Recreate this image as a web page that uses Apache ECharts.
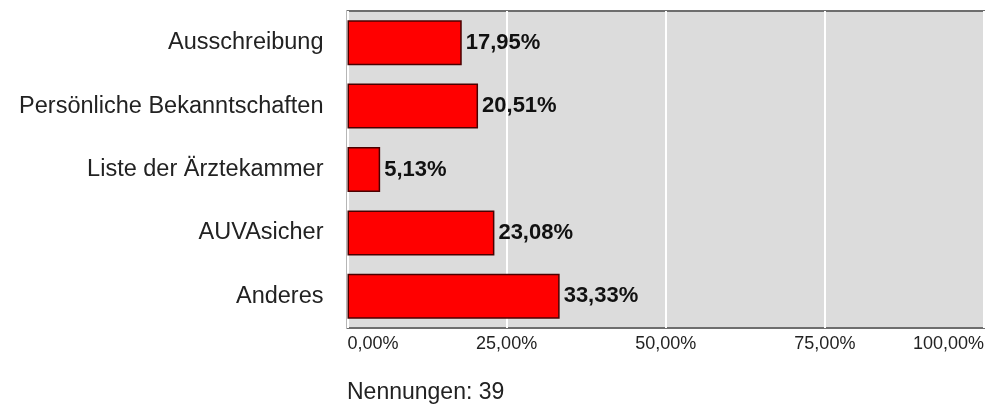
<!DOCTYPE html>
<html>
<head>
<meta charset="utf-8">
<script src="https://cdn.jsdelivr.net/npm/echarts@6/dist/echarts.min.js"></script>
<style>
  html, body { margin: 0; padding: 0; background: #fff; }
  #chart { width: 987px; height: 406px; }
</style>
</head>
<body>
<div id="chart"></div>
<script>
var categories = ['Ausschreibung', 'Persönliche Bekanntschaften', 'Liste der Ärztekammer', 'AUVAsicher', 'Anderes'];
var values = [17.95, 20.51, 5.13, 23.08, 33.33];
var ticks = [0, 25, 50, 75, 100];
var total = 39;

function pct(v) {
    return v.toFixed(2).replace('.', ',') + '%';
}

var myChart = echarts.init(document.getElementById('chart'));
var option = {
    animation: false,
    title: {
        text: 'Nennungen: ' + total,
        left: 347,
        top: 381,
        padding: 0,
        textStyle: {
            fontFamily: 'Liberation Sans',
            fontSize: 23,
            fontWeight: 'normal',
            color: '#222'
        }
    },
    grid: {
        left: 347.5,
        right: 1.5,
        top: 11,
        bottom: 78,
        show: true,
        backgroundColor: '#dcdcdc',
        borderColor: '#6e6e6e',
        borderWidth: 2
    },
    xAxis: {
        type: 'value',
        min: 0,
        max: 100,
        interval: 25,
        axisLine: { show: false },
        axisTick: { show: false },
        splitLine: {
            show: true,
            lineStyle: { color: '#ffffff', width: 2 }
        },
        axisLabel: {
            margin: 7,
            fontFamily: 'Liberation Sans',
            fontSize: 18,
            color: '#222',
            alignMinLabel: 'left',
            alignMaxLabel: 'right',
            formatter: function (v) {
                return ticks.indexOf(v) >= 0 ? pct(v) : '';
            }
        }
    },
    yAxis: {
        type: 'category',
        data: categories,
        inverse: true,
        axisLine: { show: false },
        axisTick: { show: false },
        axisLabel: {
            margin: 24,
            fontFamily: 'Liberation Sans',
            fontSize: 23.5,
            color: '#222'
        }
    },
    series: [{
        type: 'bar',
        data: values,
        barWidth: 45,
        itemStyle: {
            color: '#ff0000',
            borderColor: '#4a0000',
            borderWidth: 1.5
        },
        label: {
            show: true,
            position: 'right',
            distance: 4,
            fontFamily: 'Liberation Sans',
            fontSize: 22,
            fontWeight: 'bold',
            color: '#111',
            formatter: function (p) { return pct(p.value); }
        }
    }]
};
myChart.setOption(option);
</script>
</body>
</html>
